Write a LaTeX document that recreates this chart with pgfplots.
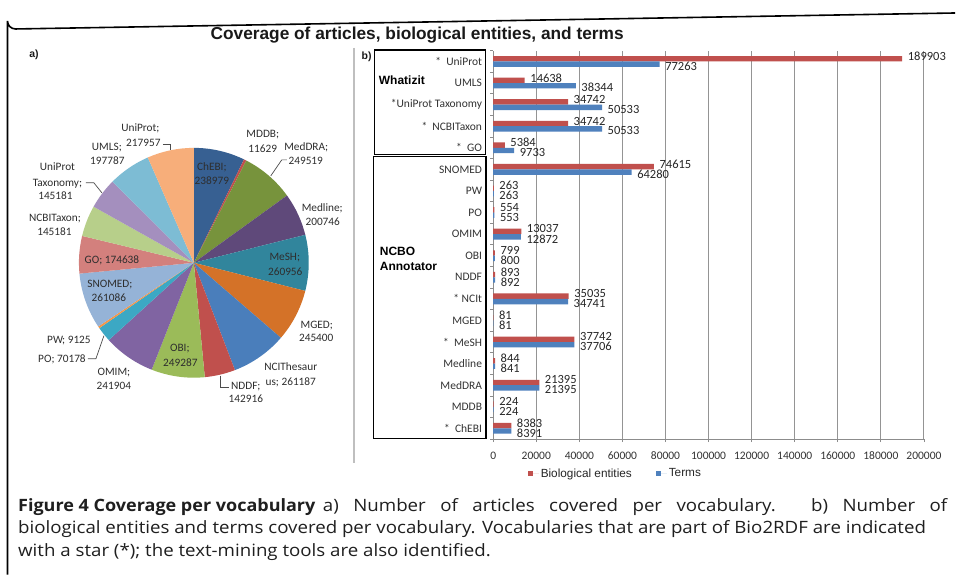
\documentclass[border=0pt]{standalone}
\usepackage{pgfplots}
\usepackage{pgfplotstable}
\pgfplotsset{compat=1.18}
\usepackage{fontspec}
\setmainfont{Carlito}
\newfontfamily\arial{Liberation Sans}
\newfontfamily\capfont{Open Sans}

\definecolor{barred}{RGB}{192,80,77}
\definecolor{barblue}{RGB}{79,129,189}
\definecolor{cChEBI}{RGB}{55,96,146}
\definecolor{cMDDB}{RGB}{192,80,77}
\definecolor{cMedDRA}{RGB}{119,147,60}
\definecolor{cMedline}{RGB}{95,73,122}
\definecolor{cMeSH}{RGB}{49,133,156}
\definecolor{cMGED}{RGB}{212,114,40}
\definecolor{cNCIT}{RGB}{74,126,187}
\definecolor{cNDDF}{RGB}{192,80,77}
\definecolor{cOBI}{RGB}{155,187,89}
\definecolor{cOMIM}{RGB}{128,100,162}
\definecolor{cPO}{RGB}{60,168,196}
\definecolor{cPW}{RGB}{247,150,70}
\definecolor{cSNOMED}{RGB}{149,179,215}
\definecolor{cGO}{RGB}{211,128,125}
\definecolor{cNCBITaxon}{RGB}{183,207,138}
\definecolor{cUPTax}{RGB}{164,143,190}
\definecolor{cUMLS}{RGB}{125,188,212}
\definecolor{cUniProt}{RGB}{247,174,122}

% a) articles per vocabulary (pie, clockwise from top)
\pgfplotstableread{
name value color
ChEBI 238979 cChEBI
MDDB 11629 cMDDB
MedDRA 249519 cMedDRA
Medline 200746 cMedline
MeSH 260956 cMeSH
MGED 245400 cMGED
NCIThesaurus 261187 cNCIT
NDDF 142916 cNDDF
OBI 249287 cOBI
OMIM 241904 cOMIM
PO 70178 cPO
PW 9125 cPW
SNOMED 261086 cSNOMED
GO 174638 cGO
NCBITaxon 145181 cNCBITaxon
UniProtTaxonomy 145181 cUPTax
UMLS 197787 cUMLS
UniProt 217957 cUniProt
}\pietable

% b) biological entities and terms per vocabulary
\pgfplotstableread{
pos be terms
17 189903 77263
16 14638 38344
15 34742 50533
14 34742 50533
13 5384 9733
12 74615 64280
11 263 263
10 554 553
9 13037 12872
8 799 800
7 893 892
6 35035 34741
5 81 81
4 37742 37706
3 844 841
2 21395 21395
1 224 224
0 8383 8391
}\bartable

\gdef\pietotal{0}
\pgfplotstableforeachcolumnelement{value}\of\pietable\as\v{\xdef\pietotal{\fpeval{\pietotal+\v}}}
\gdef\piecum{0}
\gdef\pieslices{}
\pgfplotstableforeachcolumnelement{value}\of\pietable\as\v{%
  \pgfplotstablegetelem{\pgfplotstablerow}{color}\of\pietable
  \xdef\pieA{\fpeval{90-360*\piecum/\pietotal}}%
  \xdef\piecum{\fpeval{\piecum+\v}}%
  \xdef\pieB{\fpeval{90-360*\piecum/\pietotal}}%
  \xdef\pieslices{\unexpanded\expandafter{\pieslices}\noexpand\fill[\pgfplotsretval] (axis cs:0,0) -- (axis cs:{cos(\pieA)},{sin(\pieA)}) arc[start angle=\pieA, end angle=\pieB, radius=115bp] -- cycle;}%
}

\newcommand\pl[3]{\node[anchor=base, font=\fontsize{11.3bp}{13bp}\selectfont, text=black!82, inner sep=0pt] at (#1,#2+4) {#3};}

\begin{document}
\begin{tikzpicture}
\begin{scope}[x=1bp,y=-1bp]
\useasboundingbox (0,0) rectangle (956,575);
\fill[white] (0,0) rectangle (956,575);
\end{scope}

% pie
\begin{axis}[at={(194bp,-263bp)}, anchor=center, x=115bp, y=115bp,
  xmin=-1, xmax=1, ymin=-1, ymax=1, hide axis, clip=false]
\pieslices
\end{axis}

% bars
\begin{axis}[at={(493.6bp,-439.5bp)}, anchor=south west,
  scale only axis, width=431.1bp, height=388.8bp,
  xbar, bar width=5.4bp,
  xmin=0, xmax=200000, ymin=-0.5, ymax=17.5,
  axis x line*=bottom, axis y line*=left,
  axis line style={draw=black!45, line width=0.8bp, -},
  xtick={0,20000,...,200000}, scaled x ticks=false,
  /pgf/number format/fixed, /pgf/number format/1000 sep={},
  /pgf/number format/assume math mode=true,
  xmajorgrids, major grid style={draw=black!42, line width=0.9bp},
  tick align=outside, major tick length=3bp,
  tick style={draw=black!45, line width=0.8bp},
  xticklabel style={font=\fontsize{11.5bp}{13bp}\selectfont, text=black!80, yshift=-6bp},
  ytick={-0.5,0.5,...,17.5}, yticklabels={},
  extra y ticks={0,1,...,17},
  extra y tick labels={{* \ ChEBI},MDDB,MedDRA,Medline,{* \ MeSH},MGED,{* NCIt},NDDF,OBI,OMIM,PO,PW,SNOMED,{* \ GO},{* \ NCBITaxon},{*UniProt Taxonomy},UMLS,{* \ UniProt}},
  extra y tick style={major tick length=0pt, tick style={draw=none}},
  yticklabel style={font=\fontsize{11.5bp}{13bp}\selectfont, text=black!80, inner sep=0pt, xshift=-11bp},
  nodes near coords, point meta=x,
  every node near coord/.append style={font=\fontsize{12.5bp}{14bp}\selectfont, text=black!85, inner sep=0.5bp, anchor=west, xshift=5bp},
  legend columns=2,
  legend style={at={(0.0798,-0.0887)}, anchor=west, draw=none, fill=none, inner sep=0pt,
    font=\arial\fontsize{11.8bp}{13bp}\selectfont, text=black!85,
    /tikz/every even column/.append style={column sep=22bp}},
  clip=false]
\addplot[fill=barred, draw=none, bar shift=2.7bp,
  every node near coord/.append style={yshift=2.5bp},
  legend image code/.code={\fill[barred] (0bp,-2.75bp) rectangle (5.5bp,2.75bp); \path (0bp,0bp) -- (11bp,0bp);}]
  table[x=be, y=pos]{\bartable};
\addplot[fill=barblue, draw=none, bar shift=-2.7bp,
  every node near coord/.append style={yshift=-2bp},
  legend image code/.code={\fill[barblue] (0bp,-2.75bp) rectangle (5.5bp,2.75bp); \path (0bp,0bp) -- (11bp,0bp);}]
  table[x=terms, y=pos]{\bartable};
\legend{Biological entities, Terms}
\end{axis}

\begin{scope}[x=1bp,y=-1bp]
% frame
\draw[line width=1.6bp] (7.5,575) -- (7.5,21) arc[start angle=180, end angle=90, radius=8] -- (956,13);
\draw[black!25, line width=1.5bp] (354.5,48) -- (354.5,463);
% title
\node[font=\arial\bfseries\fontsize{17.3bp}{20bp}\selectfont, text=black!90] at (417.5,35) {Coverage of articles, biological entities, and terms};
\node[font=\arial\bfseries\fontsize{10.5bp}{12bp}\selectfont, text=black!90] at (34,55) {a)};
\node[font=\arial\bfseries\fontsize{10.5bp}{12bp}\selectfont, text=black!90] at (367,57) {b)};
% text-mining tool boxes
\draw[line width=1.2bp] (374.5,50) rectangle (486,154.5);
\draw[line width=1.2bp] (373.5,156.5) rectangle (486.5,438.5);
\node[anchor=west, font=\arial\bfseries\fontsize{12bp}{14bp}\selectfont, inner sep=0pt] at (379,80) {Whatizit};
\node[anchor=north west, align=left, font=\arial\bfseries\fontsize{12bp}{15bp}\selectfont, inner sep=0pt] at (380,247) {NCBO\\Annotator};
% pie leader lines
\draw[black!70, line width=0.7bp] (163,144) -- (170,144) -- (170,150);
\draw[black!70, line width=0.7bp] (86,183) -- (94,183) -- (102,193);
\draw[black!70, line width=0.7bp] (287,160) -- (282,160) -- (271,176);
\draw[black!70, line width=0.7bp] (88,359) -- (96,359) -- (104,336);
\draw[black!70, line width=0.7bp] (221,376) -- (221,388) -- (229,388);
% pie labels
\pl{140.5}{128}{UniProt;}
\pl{143.5}{143}{217957}
\pl{107}{147}{UMLS;}
\pl{107.5}{161}{197787}
\pl{57.5}{167}{UniProt}
\pl{57.5}{183}{Taxonomy;}
\pl{55.5}{196}{145181}
\pl{55}{218}{NCBITaxon;}
\pl{54.5}{232}{145181}
\pl{112}{260}{GO; 174638}
\pl{110}{284}{SNOMED;}
\pl{109}{298}{261086}
\pl{69}{340}{PW; 9125}
\pl{62}{359}{PO; 70178}
\pl{114}{372}{OMIM;}
\pl{114}{386}{241904}
\pl{180}{348}{OBI;}
\pl{180.5}{363}{249287}
\pl{246}{386}{NDDF;}
\pl{246}{399}{142916}
\pl{291}{367}{NCIThesaur}
\pl{291}{382}{us; 261187}
\pl{317}{325}{MGED;}
\pl{316.5}{338}{245400}
\pl{285}{257}{MeSH;}
\pl{285.5}{272}{260956}
\pl{322.5}{208}{Medline;}
\pl{323}{222}{200746}
\pl{306.5}{147}{MedDRA;}
\pl{306}{161}{249519}
\pl{263}{134}{MDDB;}
\pl{263}{149}{11629}
\pl{212}{167}{ChEBI;}
\pl{212}{181}{238979}
% caption
\node[anchor=base west, inner sep=0pt, xscale=1.06, font=\capfont\bfseries\fontsize{17bp}{20bp}\selectfont, text=black!88] at (18,511.7) {Figure 4 Coverage per vocabulary};
\node[anchor=base west, inner sep=0pt, xscale=1.1, font=\capfont\fontsize{17bp}{20bp}\selectfont, text=black!88] at (323,511.7) {\makebox[568bp][s]{a) Number of articles covered per vocabulary. b) Number of}};
\node[anchor=base west, inner sep=0pt, xscale=1.1, font=\capfont\fontsize{17bp}{20bp}\selectfont, text=black!88] at (18,533.5) {biological entities and terms covered per vocabulary. Vocabularies that are part of Bio2RDF are indicated};
\node[anchor=base west, inner sep=0pt, xscale=1.1, font=\capfont\fontsize{17bp}{20bp}\selectfont, text=black!88] at (18,557) {with a star (*); the text-mining tools are also identified.};
\end{scope}
\end{tikzpicture}
\end{document}
